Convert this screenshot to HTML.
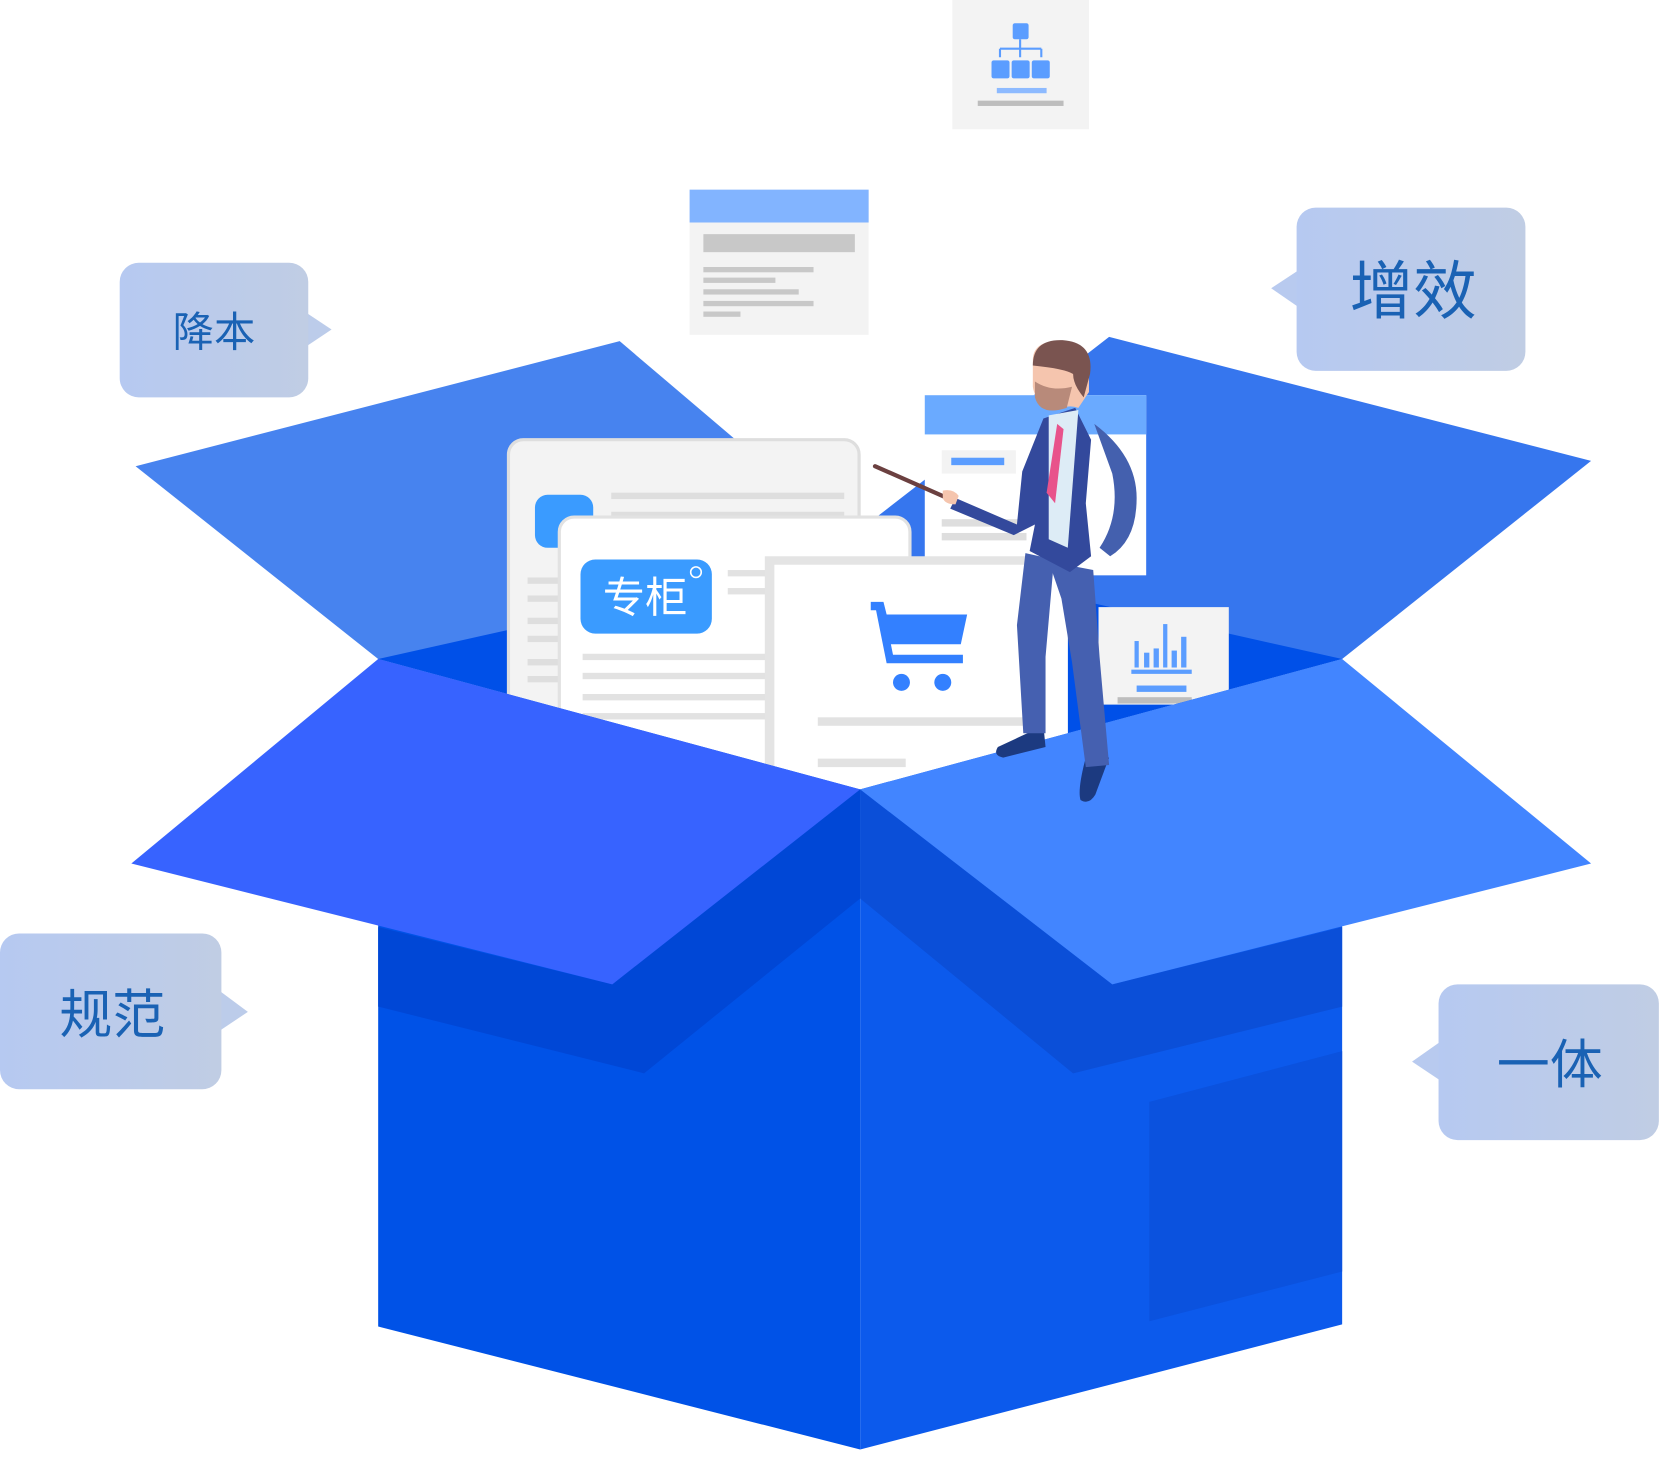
<!DOCTYPE html>
<html><head><meta charset="utf-8"><style>
html,body{margin:0;padding:0;background:#fff;}
svg{display:block;}
text{font-family:"Liberation Sans","Noto Sans CJK SC",sans-serif;}
</style></head><body>
<svg width="1661" height="1459" viewBox="0 0 1568 1377" preserveAspectRatio="none" xmlns="http://www.w3.org/2000/svg">
<defs>
<linearGradient id="bg" x1="0" y1="0" x2="1" y2="0"><stop offset="0" stop-color="#b6c9f1"/><stop offset="1" stop-color="#c0cde4"/></linearGradient>
</defs>
<rect x="899" y="0" width="129" height="122" fill="#f3f3f3"/>
<rect x="956" y="22" width="15" height="15" rx="2" fill="#5b9dff"/>
<path d="M963 37v9M944 46h39M944 46v8M963 46v8M983 46v8" stroke="#5b9dff" stroke-width="2" fill="none"/>
<rect x="936" y="57" width="17" height="17" rx="2" fill="#5b9dff"/>
<rect x="955" y="57" width="17" height="17" rx="2" fill="#5b9dff"/>
<rect x="974" y="57" width="17" height="17" rx="2" fill="#5b9dff"/>
<rect x="941" y="83" width="47" height="5" fill="#8dbaff"/>
<rect x="923" y="95" width="81" height="5" fill="#bdbdbd"/>
<rect x="651" y="179" width="169" height="137" fill="#f3f3f3"/>
<rect x="651" y="179" width="169" height="31" fill="#82b4ff"/>
<rect x="664" y="221" width="143" height="17" fill="#c8c8c8"/>
<g fill="#c8c8c8"><rect x="664" y="252" width="104" height="5"/><rect x="664" y="262" width="68" height="5"/><rect x="664" y="273" width="90" height="5"/><rect x="664" y="284" width="104" height="5"/><rect x="664" y="294" width="35" height="5"/></g>
<polygon points="128,440 585,322 812,515 812,600 357,622" fill="#4783ef"/>
<polygon points="1047,318 1502,435 1267,622 812,600 812,500" fill="#3676ee"/>
<polygon points="357,622 812,520 1267,622 812,745" fill="#0050e8"/>
<rect x="480" y="415" width="331" height="260" rx="14" fill="#f3f3f3" stroke="#dedede" stroke-width="3"/>
<rect x="505" y="467" width="55" height="50" rx="12" fill="#3a9bff"/>
<g fill="#dedede"><rect x="577" y="465" width="220" height="6"/><rect x="577" y="483" width="220" height="6"/><rect x="498" y="545" width="30" height="6"/><rect x="498" y="562" width="30" height="6"/><rect x="498" y="583" width="30" height="6"/><rect x="498" y="600" width="30" height="6"/><rect x="498" y="622" width="30" height="6"/><rect x="498" y="638" width="30" height="6"/></g>
<rect x="873" y="373" width="209" height="170" fill="#fff"/>
<rect x="873" y="373" width="209" height="37" fill="#6aaaff"/>
<rect x="889" y="425" width="70" height="22" fill="#f3f3f3"/>
<rect x="898" y="432" width="50" height="7" fill="#5b9dff"/>
<g fill="#dedede"><rect x="889" y="490" width="80" height="7"/><rect x="889" y="503" width="80" height="7"/></g>
<rect x="528" y="488" width="331" height="260" rx="14" fill="#fff" stroke="#e2e2e2" stroke-width="3"/>
<rect x="548" y="528" width="124" height="70" rx="14" fill="#3a9bff"/>
<text x="609" y="578" font-size="40" fill="#fff" text-anchor="middle">专柜</text>
<circle cx="657" cy="540" r="5" fill="none" stroke="#fff" stroke-width="1.5"/>
<g fill="#e2e2e2"><rect x="550" y="617" width="180" height="6"/><rect x="550" y="635" width="180" height="6"/><rect x="550" y="655" width="180" height="6"/><rect x="550" y="673" width="180" height="6"/><rect x="687" y="538" width="40" height="6"/><rect x="687" y="555" width="40" height="6"/></g>
<rect x="722" y="525" width="286" height="215" fill="#e4e4e4"/>
<rect x="731" y="533" width="277" height="210" fill="#fff"/>
<g fill="#3380ff">
<path d="M822 568h12l3 12h76l-6 28h-66l2 10h66v8h-72l-10-50h-5z"/>
<circle cx="851" cy="644" r="8"/><circle cx="890" cy="644" r="8"/>
</g>
<rect x="772" y="677" width="200" height="8" fill="#e2e2e2"/>
<rect x="772" y="716" width="83" height="8" fill="#e2e2e2"/>
<rect x="1037" y="573" width="123" height="92" fill="#f3f3f3"/>
<g fill="#5b9dff"><rect x="1071" y="605" width="4" height="25"/><rect x="1080" y="616" width="5" height="14"/><rect x="1089" y="612" width="5" height="18"/><rect x="1098" y="589" width="4" height="41"/><rect x="1106" y="614" width="5" height="16"/><rect x="1115" y="601" width="5" height="29"/><rect x="1068" y="632" width="57" height="4"/><rect x="1073" y="647" width="47" height="6"/></g>
<rect x="1055" y="658" width="70" height="6" fill="#bdbdbd"/>
<polygon points="357,622 812,745 812,1368 357,1252" fill="#0052e7"/>
<polygon points="812,745 1267,622 1267,1250 812,1368" fill="#0c5aec"/>
<polygon points="1085,1040 1267,992 1267,1200 1085,1247" fill="#0b52de"/>
<polygon points="357,875 578,929 812,745 812,848 608,1013 357,950" fill="#0047d6"/>
<polygon points="812,745 1050,929 1267,875 1267,950 1013,1013 812,848" fill="#0b4fd8"/>
<polygon points="124,815 357,622 812,745 578,929" fill="#3763ff"/>
<polygon points="812,745 1267,622 1502,815 1050,929" fill="#4285ff"/>
<g>
<path d="M826 440l75 33" stroke="#6b4040" stroke-width="4" stroke-linecap="round"/>
<path d="M1025 715q-8 30 -5 40q8 5 14 -5l13 -35z" fill="#1c3a80"/>
<path d="M942 705q-5 8 5 10l40 -10 -2 -20z" fill="#1c3a80"/>
<polygon points="968,522 995,528 987,620 987,692 966,692 960,590" fill="#4560b0"/>
<polygon points="990,530 1032,538 1038,620 1047,722 1025,724 1012,625 1002,565" fill="#4560b0"/>
<path d="M985 395l-20 50 -5 50 -58 -25 -5 10 60 25 20 -10 -5 25 38 20 20 -15 -5 -50 5 -60 -15 -30z" fill="#33499c"/>
<path d="M1033 400q40 30 40 70q0 40 -25 55l-10 -8q20 -30 12 -70z" fill="#4460ae"/>
<path d="M990 392l28 -5 -10 130 -18 -8z" fill="#ddecf6"/>
<path d="M998 400l6 5 -8 70 -8 -10z" fill="#e8538b"/>
<path d="M890 463q10 -2 15 5l-3 8q-10 0 -12 -6z" fill="#f5c5ae"/>
<path d="M975 340q0 -18 25 -18q28 0 28 28v20l-10 15q-8 -3 -15 0q-25 0 -28 -20z" fill="#f5c5ae"/>
<path d="M977 360q15 10 35 5l-5 20q-25 8 -30 -10z" fill="#b88a7a"/>
<path d="M975 345q0 -25 28 -24q30 2 26 32l-6 22q-10 -12 -10 -22q-8 -5 -38 -8z" fill="#7a5450"/>
</g>
<polygon points="289,295 313,311 289,327" fill="#bcccea"/>
<rect x="113" y="248" width="178" height="127" rx="18" fill="url(#bg)"/>
<text x="202" y="327" font-size="39" fill="#1a62b4" text-anchor="middle">降本</text>
<polygon points="1226,255 1200,272 1226,290" fill="#b8caef"/>
<rect x="1224" y="196" width="216" height="154" rx="18" fill="url(#bg)"/>
<text x="1334" y="296" font-size="60" fill="#1a62b4" text-anchor="middle">增效</text>
<polygon points="207,935 234,955 207,973" fill="#bcccea"/>
<rect x="0" y="881" width="209" height="147" rx="18" fill="url(#bg)"/>
<text x="106" y="975" font-size="50" fill="#1a62b4" text-anchor="middle">规范</text>
<polygon points="1360,983 1333,1002 1360,1020" fill="#b8caef"/>
<rect x="1358" y="929" width="208" height="147" rx="18" fill="url(#bg)"/>
<text x="1463" y="1022" font-size="50" fill="#1a62b4" text-anchor="middle">一体</text>
</svg>
</body></html>
